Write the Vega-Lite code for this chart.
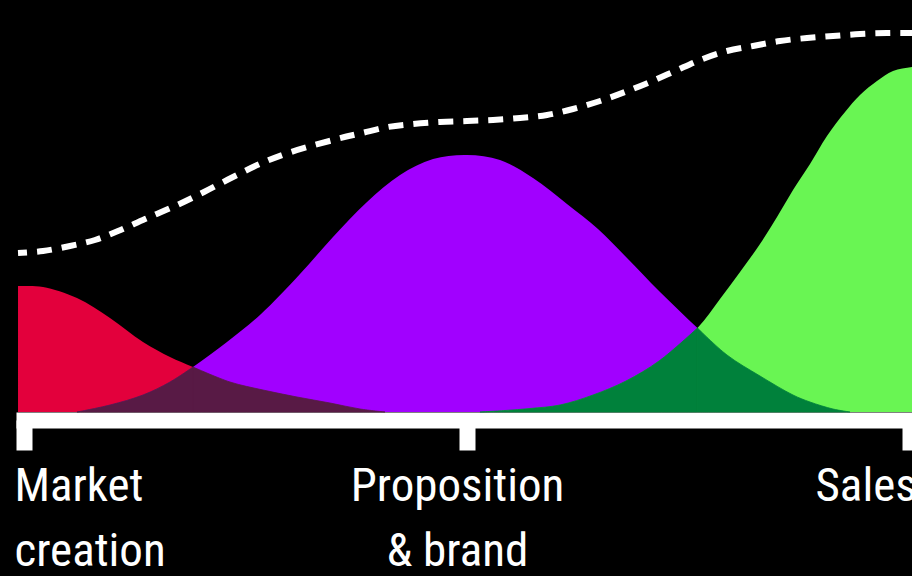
{
  "$schema": "https://vega.github.io/schema/vega-lite/v6.json",
  "width": 896,
  "height": 420,
  "autosize": {"type": "none"},
  "padding": {"left": 16, "top": 0, "right": 0, "bottom": 156},
  "background": "#000000",
  "config": {"view": {"stroke": null}},
  "data": {
    "values": [
      {"s": "red", "t": -1.35, "v": 126}, {"s": "red", "t": 0, "v": 126}, {"s": "red", "t": 4.29, "v": 125}, {"s": "red", "t": 11.96, "v": 114}, {"s": "red", "t": 19.41, "v": 94}, {"s": "red", "t": 26.86, "v": 70}, {"s": "red", "t": 32.96, "v": 55}, {"s": "red", "t": 38.15, "v": 45}, {"s": "red", "t": 46.5, "v": 30}, {"s": "red", "t": 53.95, "v": 22}, {"s": "red", "t": 61.63, "v": 15}, {"s": "red", "t": 69.07, "v": 9}, {"s": "red", "t": 75.85, "v": 3}, {"s": "red", "t": 81.49, "v": 0},
      {"s": "purple", "t": 11.96, "v": 0}, {"s": "purple", "t": 19.41, "v": 7}, {"s": "purple", "t": 26.86, "v": 17}, {"s": "purple", "t": 32.96, "v": 30}, {"s": "purple", "t": 38.15, "v": 45}, {"s": "purple", "t": 45.82, "v": 70}, {"s": "purple", "t": 53.27, "v": 97}, {"s": "purple", "t": 62.3, "v": 138}, {"s": "purple", "t": 69.75, "v": 175}, {"s": "purple", "t": 77.43, "v": 210}, {"s": "purple", "t": 84.88, "v": 237}, {"s": "purple", "t": 92.33, "v": 253}, {"s": "purple", "t": 100, "v": 257}, {"s": "purple", "t": 107.45, "v": 252}, {"s": "purple", "t": 114.9, "v": 234}, {"s": "purple", "t": 122.57, "v": 208}, {"s": "purple", "t": 129.57, "v": 183}, {"s": "purple", "t": 136.12, "v": 154}, {"s": "purple", "t": 143.57, "v": 120}, {"s": "purple", "t": 152.03, "v": 84}, {"s": "purple", "t": 158.69, "v": 57}, {"s": "purple", "t": 166.14, "v": 36}, {"s": "purple", "t": 173.59, "v": 17}, {"s": "purple", "t": 177.43, "v": 10}, {"s": "purple", "t": 182.62, "v": 3}, {"s": "purple", "t": 186.46, "v": 0},
      {"s": "green", "t": 102.93, "v": 0}, {"s": "green", "t": 108.58, "v": 1.5}, {"s": "green", "t": 114.22, "v": 3.5}, {"s": "green", "t": 120.99, "v": 7}, {"s": "green", "t": 128.44, "v": 17}, {"s": "green", "t": 135.89, "v": 31}, {"s": "green", "t": 143.34, "v": 51}, {"s": "green", "t": 152.03, "v": 84}, {"s": "green", "t": 157.11, "v": 113}, {"s": "green", "t": 161.63, "v": 140}, {"s": "green", "t": 166.14, "v": 168}, {"s": "green", "t": 169.98, "v": 195}, {"s": "green", "t": 173.59, "v": 222}, {"s": "green", "t": 177.43, "v": 248}, {"s": "green", "t": 181.26, "v": 276}, {"s": "green", "t": 185.33, "v": 300}, {"s": "green", "t": 188.71, "v": 317}, {"s": "green", "t": 192.55, "v": 331}, {"s": "green", "t": 196.16, "v": 341}, {"s": "green", "t": 200.45, "v": 345}, {"s": "green", "t": 204.51, "v": 346},
      {"s": "trend", "t": -1.35, "v": 159}, {"s": "trend", "t": 4.29, "v": 161}, {"s": "trend", "t": 10.38, "v": 166}, {"s": "trend", "t": 16.03, "v": 172}, {"s": "trend", "t": 21.22, "v": 181}, {"s": "trend", "t": 27.31, "v": 193}, {"s": "trend", "t": 34.09, "v": 206}, {"s": "trend", "t": 40.63, "v": 220}, {"s": "trend", "t": 47.18, "v": 235}, {"s": "trend", "t": 53.72, "v": 249}, {"s": "trend", "t": 60.27, "v": 260}, {"s": "trend", "t": 70.65, "v": 273}, {"s": "trend", "t": 76.3, "v": 279}, {"s": "trend", "t": 82.17, "v": 285}, {"s": "trend", "t": 87.81, "v": 288}, {"s": "trend", "t": 93.91, "v": 290}, {"s": "trend", "t": 100, "v": 291}, {"s": "trend", "t": 105.87, "v": 292}, {"s": "trend", "t": 111.96, "v": 294}, {"s": "trend", "t": 118.06, "v": 297}, {"s": "trend", "t": 123.93, "v": 303}, {"s": "trend", "t": 130.02, "v": 311}, {"s": "trend", "t": 135.67, "v": 320}, {"s": "trend", "t": 141.31, "v": 330}, {"s": "trend", "t": 146.95, "v": 341}, {"s": "trend", "t": 152.6, "v": 352}, {"s": "trend", "t": 158.69, "v": 361}, {"s": "trend", "t": 164.56, "v": 366}, {"s": "trend", "t": 170.65, "v": 371}, {"s": "trend", "t": 176.75, "v": 374}, {"s": "trend", "t": 182.62, "v": 376}, {"s": "trend", "t": 188.71, "v": 378}, {"s": "trend", "t": 194.81, "v": 379}, {"s": "trend", "t": 200.45, "v": 379}, {"s": "trend", "t": 204.51, "v": 379}
    ]
  },
  "encoding": {
    "x": {
      "field": "t",
      "type": "quantitative",
      "scale": {"domain": [-1.806, 200.451], "nice": false, "zero": false},
      "axis": {
        "values": [0, 100, 200],
        "title": null,
        "grid": false,
        "domainColor": "#ffffff",
        "domainWidth": 16,
        "domainCap": "butt",
        "tickColor": "#ffffff",
        "tickWidth": 16,
        "tickSize": 30,
        "tickCap": "butt",
        "labelExpr": "datum.value == 0 ? ['Market', 'creation'] : datum.value == 100 ? ['Proposition', '& brand'] : 'Sales'",
        "labelFont": "Roboto Condensed, Liberation Sans Narrow, DejaVu Sans Condensed, Roboto, sans-serif",
        "labelFontSize": 47,
        "labelColor": "#ffffff",
        "labelLineHeight": 65,
        "labelPadding": 13,
        "labelBaseline": "top",
        "labelLimit": 0,
        "labelFlush": false,
        "labelOverlap": false,
        "labelBound": false,
        "labelAlign": {"condition": {"test": "datum.value == 100", "value": "center"}, "value": "left"},
        "labelOffset": {"condition": {"test": "datum.value == 200", "value": -95}, "value": -10}
      }
    },
    "y": {
      "field": "v",
      "type": "quantitative",
      "scale": {"domain": [-8, 412], "nice": false, "zero": false},
      "axis": null
    }
  },
  "layer": [
    {"transform": [{"filter": "datum.s == 'red'"}], "mark": {"type": "area", "color": "#E3003C", "interpolate": "catmull-rom", "clip": true}, "encoding": {"y2": {"datum": 0}}},
    {"transform": [{"filter": "datum.s == 'purple'"}], "mark": {"type": "area", "color": "#A100FF", "interpolate": "catmull-rom", "clip": true}, "encoding": {"y2": {"datum": 0}}},
    {"transform": [{"filter": "datum.s == 'green'"}], "mark": {"type": "area", "color": "#69F553", "interpolate": "catmull-rom", "clip": true}, "encoding": {"y2": {"datum": 0}}},
    {"transform": [{"filter": "datum.s == 'purple' && datum.t <= 38.15"}], "mark": {"type": "area", "color": "#581A45", "stroke": "#581A45", "strokeWidth": 0.8, "interpolate": "catmull-rom", "clip": true}, "encoding": {"y2": {"datum": 0}}},
    {"transform": [{"filter": "datum.s == 'red' && datum.t >= 38.15"}], "mark": {"type": "area", "color": "#581A45", "stroke": "#581A45", "strokeWidth": 0.8, "interpolate": "catmull-rom", "clip": true}, "encoding": {"y2": {"datum": 0}}},
    {"transform": [{"filter": "datum.s == 'green' && datum.t <= 152.03"}], "mark": {"type": "area", "color": "#00813B", "stroke": "#00813B", "strokeWidth": 0.8, "interpolate": "catmull-rom", "clip": true}, "encoding": {"y2": {"datum": 0}}},
    {"transform": [{"filter": "datum.s == 'purple' && datum.t >= 152.03"}], "mark": {"type": "area", "color": "#00813B", "stroke": "#00813B", "strokeWidth": 0.8, "interpolate": "catmull-rom", "clip": true}, "encoding": {"y2": {"datum": 0}}},
    {"transform": [{"filter": "datum.s == 'trend'"}], "mark": {"type": "line", "color": "#ffffff", "strokeWidth": 6, "strokeDash": [15, 10], "strokeDashOffset": 6, "strokeCap": "butt", "interpolate": "catmull-rom", "clip": true}, "encoding": {}}
  ]
}
